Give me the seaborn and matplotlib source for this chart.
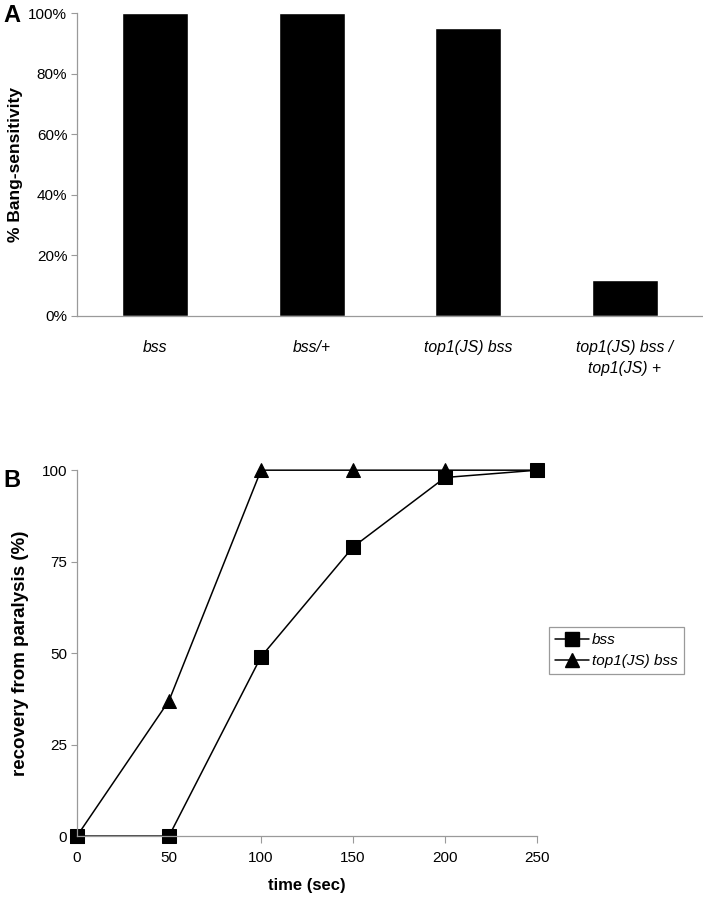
import numpy as np
import pandas as pd
import seaborn as sns
import matplotlib.pyplot as plt
from matplotlib.ticker import PercentFormatter
from matplotlib.lines import Line2D

sns.set_style("white")
plt.rcParams['font.family'] = ['Liberation Sans', 'DejaVu Sans']
plt.rcParams['text.color'] = 'black'
plt.rcParams['axes.labelcolor'] = 'black'
plt.rcParams['xtick.color'] = 'black'
plt.rcParams['ytick.color'] = 'black'

# ----- data -----
genotypes = ['bss', 'bss/+', 'top1(JS) bss', 'top1(JS) bss /\ntop1(JS) +']
bang_pct = [100, 100, 95, 12]

times = [0, 50, 100, 150, 200, 250]
rec_bss = [0, 0, 49, 79, 98, 100]
rec_top1 = [0, 37, 100, 100, 100, 100]
series_names = ['bss', 'top1(JS) bss']

grey = '#9a9a9a'

fig = plt.figure(figsize=(7.03, 8.99), dpi=100)

# ----- panel A -----
axA = fig.add_axes([0.1095, 0.6485, 0.8905, 0.337])
dfA = pd.DataFrame({'genotype': genotypes, 'pct': bang_pct})
sns.barplot(data=dfA, x='genotype', y='pct', color='black', width=0.42,
            saturation=1, ax=axA)
axA.set_xlim(-0.5, 3.5)
axA.set_ylim(0, 100)
axA.set_yticks([0, 20, 40, 60, 80, 100])
axA.yaxis.set_major_formatter(PercentFormatter(decimals=0))
axA.set_xlabel('')
axA.set_ylabel('% Bang-sensitivity', fontsize=12.5, fontweight='bold', labelpad=4)
for lab in axA.get_xticklabels():
    lab.set_fontstyle('italic')
    lab.set_linespacing(1.5)
axA.tick_params(axis='x', length=0, pad=17, labelsize=11.3)
axA.tick_params(axis='y', left=True, length=4, width=0.8, color=grey,
                labelsize=11, pad=3)
for s in ['top', 'right']:
    axA.spines[s].set_visible(False)
for s in ['left', 'bottom']:
    axA.spines[s].set_color(grey)
    axA.spines[s].set_linewidth(0.9)
fig.text(0.005, 0.983, 'A', fontsize=17, fontweight='bold', va='center')

# ----- panel B -----
axB = fig.add_axes([0.1095, 0.070, 0.6545, 0.407])
dfB = pd.DataFrame({
    'time': times * 2,
    'rec': rec_bss + rec_top1,
    'strain': [series_names[0]] * len(times) + [series_names[1]] * len(times),
})
sns.lineplot(data=dfB, x='time', y='rec', style='strain',
             markers={'bss': 's', 'top1(JS) bss': '^'}, dashes=False,
             color='black', markersize=10.5, linewidth=1.1,
             markeredgecolor='black', clip_on=False, legend=False, ax=axB)
axB.set_xlim(0, 250)
axB.set_ylim(0, 100)
axB.set_xticks(times)
axB.set_yticks([0, 25, 50, 75, 100])
axB.set_xlabel('time (sec)', fontsize=12, fontweight='bold', labelpad=9)
axB.set_ylabel('recovery from paralysis (%)', fontsize=13.5, fontweight='bold',
               labelpad=9)
axB.tick_params(axis='x', bottom=True, length=5, width=0.8, color=grey,
                labelsize=11, pad=6)
axB.tick_params(axis='y', left=True, length=4, width=0.8, color=grey,
                labelsize=11, pad=3)
for s in ['top', 'right']:
    axB.spines[s].set_visible(False)
for s in ['left', 'bottom']:
    axB.spines[s].set_color(grey)
    axB.spines[s].set_linewidth(0.9)

handles = [Line2D([], [], color='black', marker='s', markersize=10.5, lw=1.1),
           Line2D([], [], color='black', marker='^', markersize=10.5, lw=1.1)]
leg = axB.legend(handles, series_names, loc='upper left',
                 bbox_to_anchor=(1.026, 0.571), borderaxespad=0,
                 fancybox=False, framealpha=1, edgecolor=grey,
                 prop={'style': 'italic', 'size': 11},
                 handlelength=2.2, handletextpad=0.2, labelspacing=0.45,
                 borderpad=0.4)
leg.get_frame().set_linewidth(0.9)
fig.text(0.005, 0.465, 'B', fontsize=17, fontweight='bold', va='center')

fig.savefig('out.png', dpi=100)
